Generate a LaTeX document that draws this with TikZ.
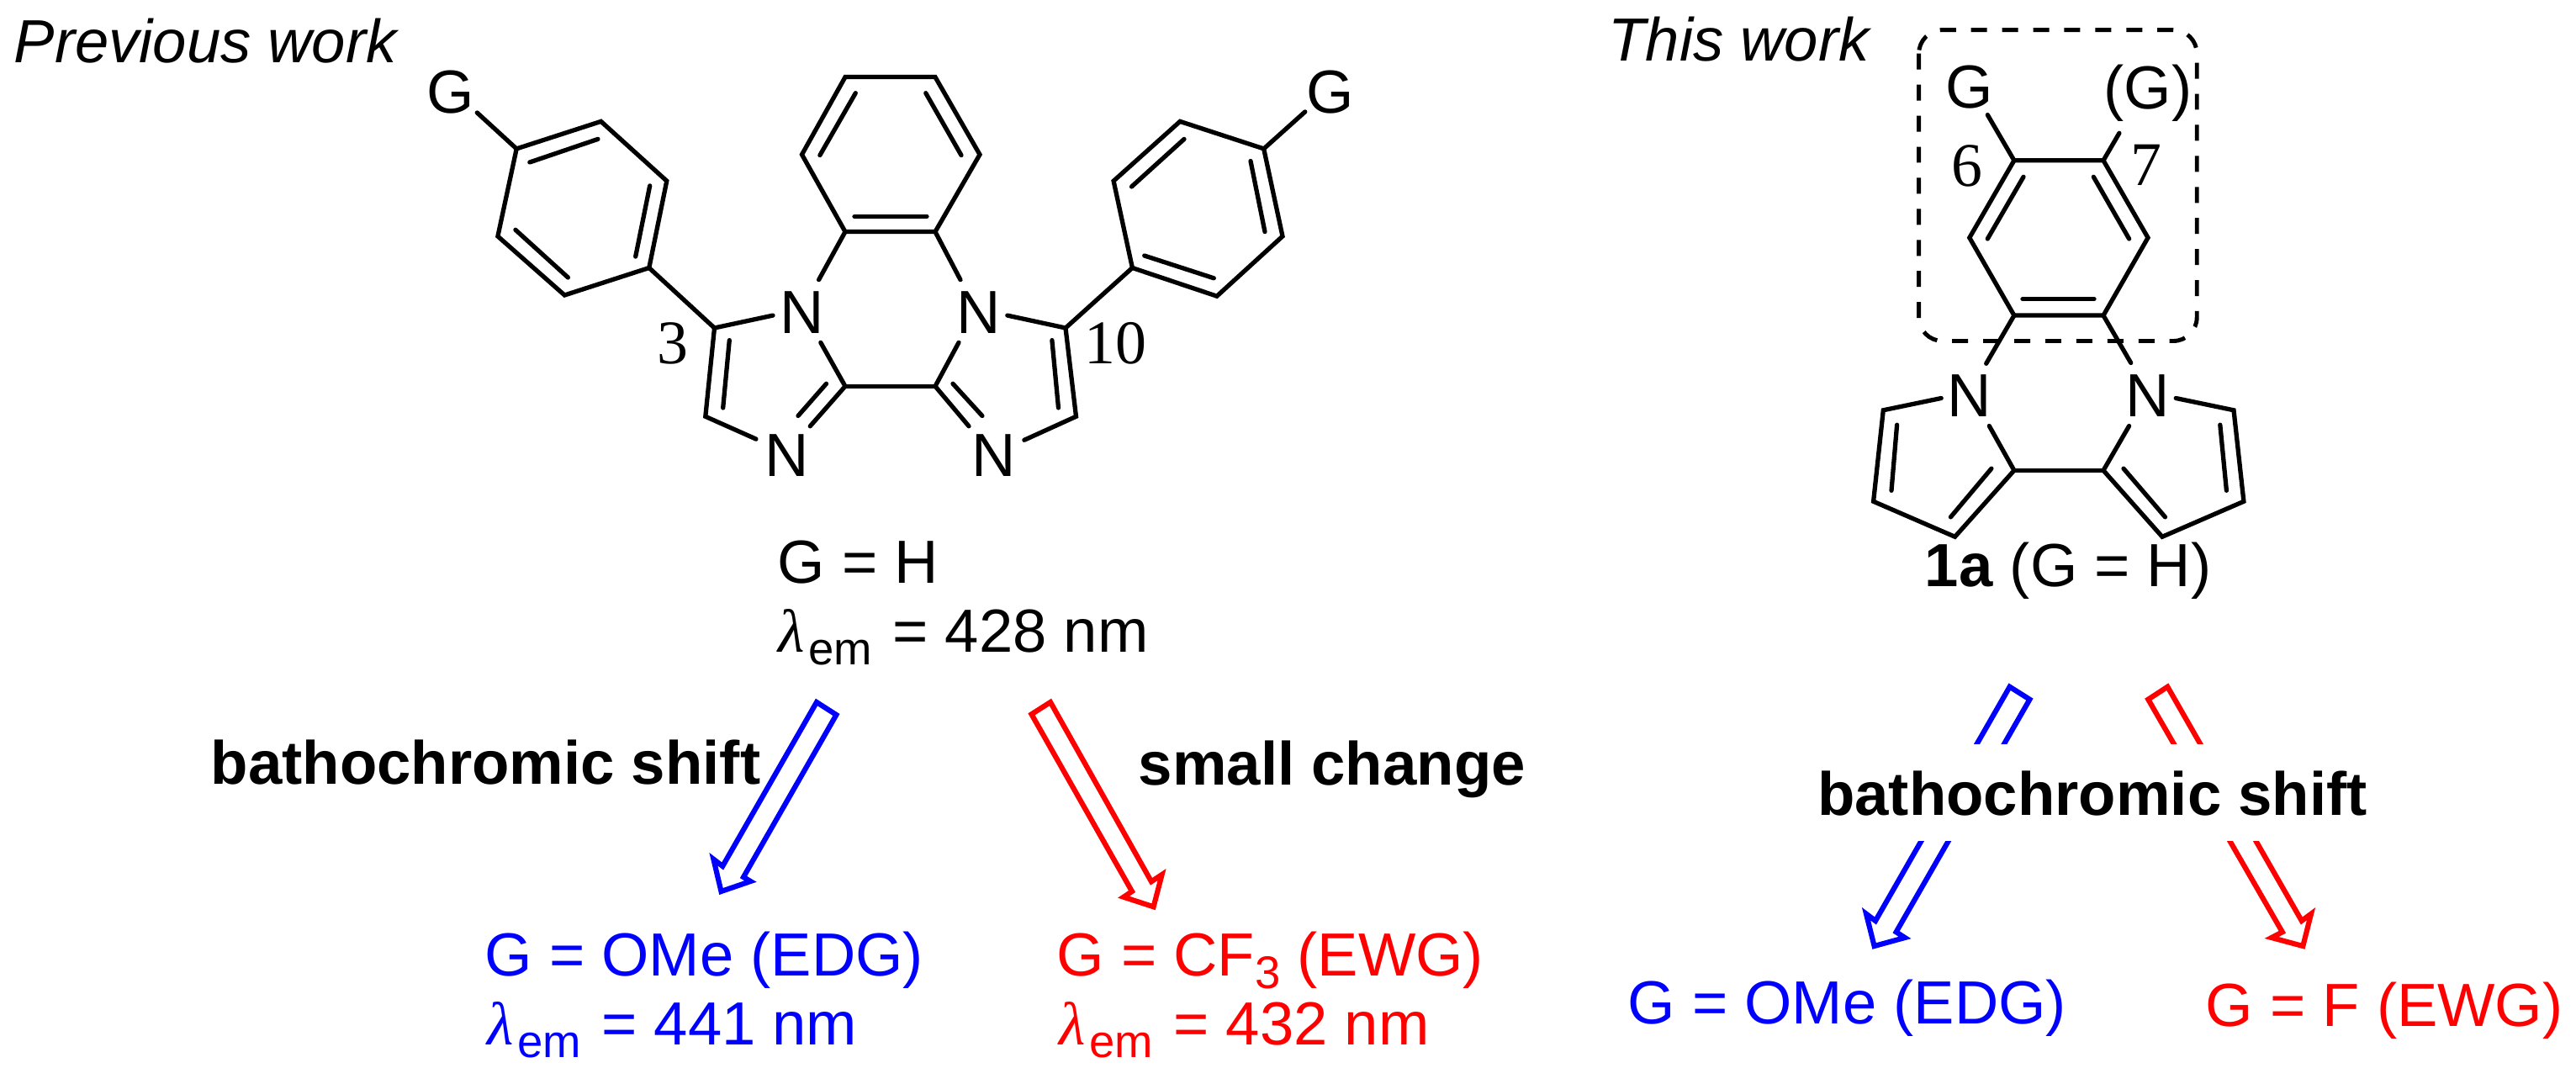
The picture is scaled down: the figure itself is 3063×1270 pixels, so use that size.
\documentclass[tikz,border=0pt]{standalone}
\usepackage{fontspec}
\setmainfont{Liberation Sans}
\newfontfamily\serifnum{Liberation Serif}
\newcommand{\mainsz}{\fontsize{20.6pt}{24pt}\selectfont}
\newcommand{\boldsz}{\fontsize{20.65pt}{25pt}\selectfont\bfseries}
\newcommand{\lem}{{\serifnum\itshape λ}\kern1.2pt{\fontsize{15.5pt}{18pt}\selectfont\raisebox{-4.3pt}{em}}\kern1.2pt}
\tikzset{
  x=0.01cm,y=-0.01cm,
  bond/.style={line width=1.5pt,line join=miter,line cap=round,black},
  atom/.style={inner sep=0pt,font=\mainsz},
  num/.style={inner sep=0pt,font=\serifnum\fontsize{21pt}{24pt}\selectfont},
  lab/.style={inner sep=0pt,anchor=base west,font=\mainsz},
  blab/.style={inner sep=0pt,anchor=base west,font=\boldsz},
  hollowb/.style={line width=1.75pt,line join=miter,draw=blue,fill=white},
  hollowr/.style={line width=1.75pt,line join=miter,draw=red,fill=white},
}
\begin{document}
\begin{tikzpicture}
\useasboundingbox (0,0) rectangle (3063,1270);
\fill[white] (0,0) rectangle (3063,1270);
% ---- left molecule atoms
\foreach \n/\x/\y in {
 la1/614.2/176.9, la2/714.6/144.4, la3/792.8/215.2, la4/771.8/318.5, la5/671.3/351, la6/591.9/281,
 c3/849.5/390, c4/838.8/495.3, ca/1005/459.3, cb/1112/459.3,
 b1/1005/275.6, b2/1112/275.6, b3/953.5/183.8, b4/1005/91.6, b5/1112/91.6, b6/1165/183.8,
 c10/1267/390, c11/1279.5/495.3,
 ra1/1346.4/318.5, ra2/1446.9/352.2, ra3/1525/281, ra4/1502.7/176.9, ra5/1403.1/144.4, ra6/1324.1/215.2,
 gl/567.3/134, gr/1551.8/132.9, nl1/973.6/332.7, nl2/975.8/407.3, nl3/919/375.1, nl4/899/522.1, nl5/963.3/506.8,
 nr1/1142/332.7, nr2/1140/407.3, nr3/1197.8/375.1, nr4/1217.9/523.3, nr5/1152/506.8}
 {\coordinate (\n) at (\x,\y);}
\node[atom] (Gl) at (536,110) {G};
\node[atom] (Gr) at (1582,110) {G};
\node[atom] (Nl) at (953.5,371.3) {N};
\node[atom] (Nr) at (1163.4,371.3) {N};
\node[atom] (Nbl) at (935.6,541.2) {N};
\node[atom] (Nbr) at (1181.3,541.2) {N};
\node[num] (n3) at (799.5,408.4) {3};
\node[num] (n10) at (1326,408.4) {10};
% rings
\draw[bond] (la1)--(la2)--(la3)--(la4)--(la5)--(la6)--cycle;
\draw[bond] (ra1)--(ra2)--(ra3)--(ra4)--(ra5)--(ra6)--cycle;
\draw[bond] (b1)--(b2)--(b6)--(b5)--(b4)--(b3)--cycle;
\draw[bond] (gl)--(la1) (gr)--(ra4) (la4)--(c3) (ra1)--(c10);
\draw[bond] (nl3)--(c3)--(c4)--(nl4) (nl2)--(ca)--(nl5) (nl1)--(b1);
\draw[bond] (nr3)--(c10)--(c11)--(nr4) (nr2)--(cb)--(nr5) (nr1)--(b2);
\draw[bond] (ca)--(cb);
% inner double bonds, left phenyl, imidazole, benzene, right
\foreach \xa/\ya/\xb/\yb in {
 629.8/193/711/165.4, 772.7/220.9/755.7/305.1, 675.4/330/612.9/273.3,
 867.3/404.6/859.7/485, 982.5/456.3/949/494.5,
 1017.3/110.7/974.9/184.6, 1016/257.3/1102/257.3, 1100.8/110.7/1143/184.6,
 1133/456.3/1167.9/494.5, 1250.9/404.6/1258.5/485,
 1360.7/304/1443.3/330.8, 1504/275.6/1487/191.5, 1345.5/222/1408/165.4}
 {\draw[bond] (\xa,\ya)--(\xb,\yb);}
% ---- right molecule
\foreach \n/\x/\y in {
 h1/2394.9/190.8, h2/2501/190.8, h3/2554/282.7, h4/2501/375.1, h5/2394.9/375.1, h6/2341.8/282.7,
 p1/2394.9/559.4, p2/2501/559.4, p3/2324.5/638.3, p4/2227.6/596.3, p5/2239.3/487.8,
 p6/2571/638.3, p7/2667.9/596.3, p8/2656/487.8,
 g6/2363.3/136.6, g7/2519.9/158.3, m1/2361.7/432.3, m2/2533.7/431.5,
 m3/2308.2/473.5, m4/2365.3/506.5, m5/2531.6/506.5, m6/2587.2/473.5}
 {\coordinate (\n) at (\x,\y);}
\draw[bond] (h1)--(h2)--(h3)--(h4)--(h5)--(h6)--cycle;
\draw[bond] (g6)--(h1) (g7)--(h2) (h5)--(m1) (h4)--(m2);
\draw[bond] (m3)--(p5)--(p4)--(p3)--(p1)--(m4);
\draw[bond] (m6)--(p8)--(p7)--(p6)--(p2)--(m5);
\draw[bond] (p1)--(p2);
\foreach \xa/\ya/\xb/\yb in {
 2406/210.3/2363.3/284, 2489.3/210.3/2531.6/284, 2405/355.6/2490/355.6,
 2255.6/505.2/2249/583.3, 2367.9/557.2/2319.4/614.9,
 2525/557.2/2574.5/614.9, 2639.8/505.2/2647.4/583.3}
 {\draw[bond] (\xa,\ya)--(\xb,\yb);}
\draw[line width=1.4pt,dash pattern=on 5.4pt off 5.1pt,rounded corners=8pt] (2281.6,35.6) rectangle (2612.2,405.5);
\node[atom] (G6) at (2341.3,103.2) {G};
\node[atom] (G7) at (2554,110.5) {(G)};
\node[num] (n6) at (2338.8,197.3) {6};
\node[num] (n7) at (2552,196) {7};
\node[atom] (N1) at (2341.8,470.5) {N};
\node[atom] (N2) at (2554,470.5) {N};
% ---- headings and labels
\node[lab,font=\mainsz\itshape] (prev) at (16,75) {Previous work};
\node[lab,font=\mainsz\itshape] (this) at (1912,72.7) {This work};
\node[lab] (gh) at (924,693) {G = H};
\node[lab] (l428) at (925,775) {\lem{} = 428 nm};
\node[lab] (one) at (2288,697) {\textbf{1a} (G = H)};
% ---- hollow arrows
\draw[hollowb] (971,835)--(994.4,850)--(884,1043)--(892.4,1048)--(857.5,1060)--(848.4,1021.7)--(859.2,1030)--cycle;
\draw[hollowr] (1249,835)--(1226.5,849.3)--(1346,1060)--(1336,1066.7)--(1371.6,1078.3)--(1381.6,1040)--(1369,1048.3)--cycle;
\draw[hollowb] (2389.6,816.7)--(2413.4,831.7)--(2254.6,1108.3)--(2265,1115)--(2228.6,1125)--(2219,1086.7)--(2230,1095)--cycle;
\draw[hollowr] (2577.3,816.7)--(2554.3,831.7)--(2713.8,1108.3)--(2701,1115)--(2738.3,1125)--(2748,1086.7)--(2736.8,1095)--cycle;
\node[blab] (bs1) at (250,932.7) {bathochromic shift};
\node[blab] (sc) at (1353,933) {small change};
\node[inner xsep=4pt,inner ysep=0pt,anchor=base,fill=white,font=\boldsz,text height=23.9pt,text depth=8.8pt] (bs2) at (2488,969) {bathochromic shift};
\node[lab,text=blue] (ome1) at (576,1160) {G = OMe (EDG)};
\node[lab,text=blue] (l441) at (579,1242) {\lem{} = 441 nm};
\node[lab,text=red] (cf3) at (1256,1160) {G = CF\raisebox{-4.3pt}{\fontsize{15.5pt}{18pt}\selectfont 3} (EWG)};
\node[lab,text=red] (l432) at (1259,1242) {\lem{} = 432 nm};
\node[lab,text=blue] (ome2) at (1935,1217) {G = OMe (EDG)};
\node[lab,text=red] (fewg) at (2622,1220) {G = F (EWG)};
\end{tikzpicture}
\end{document}
